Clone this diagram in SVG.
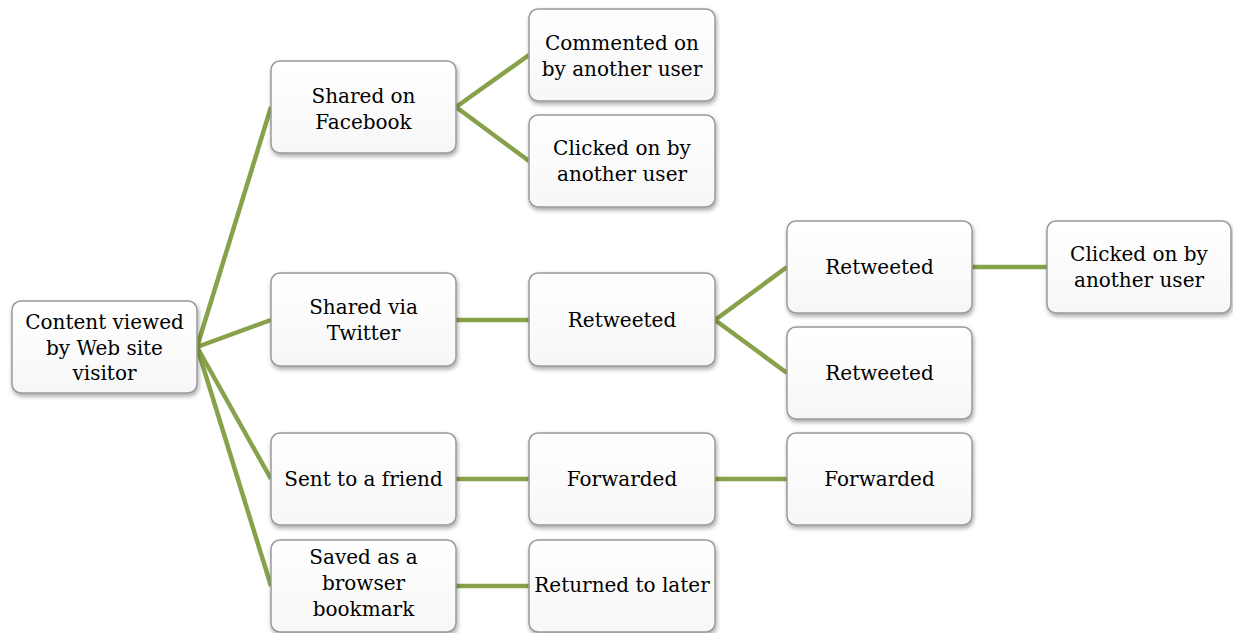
<svg xmlns="http://www.w3.org/2000/svg" width="1233" height="633" viewBox="0 0 1233 633">
<defs>
<linearGradient id="g" x1="0" y1="0" x2="0" y2="1">
<stop offset="0" stop-color="#ffffff"/>
<stop offset="1" stop-color="#f7f7f7"/>
</linearGradient>
<filter id="sh" x="-10%" y="-10%" width="125%" height="130%">
<feDropShadow dx="1" dy="2.5" stdDeviation="2" flood-color="#000" flood-opacity="0.35"/>
</filter>
</defs>
<style>
.n rect{fill:url(#g);stroke:#999999;stroke-width:1.5;filter:url(#sh)}
.n text{font-family:"DejaVu Serif","Liberation Serif",serif;font-size:20px;fill:#000;text-anchor:middle}
#connectors line{stroke:#87a24a;stroke-width:4.5;stroke-linecap:butt}
</style>
<rect width="1233" height="633" fill="#ffffff"/>
<g id="connectors">
<line x1="197" y1="347" x2="271" y2="107"/>
<line x1="197" y1="347" x2="271" y2="320"/>
<line x1="197" y1="347" x2="271" y2="479"/>
<line x1="197" y1="347" x2="271" y2="586"/>
<line x1="456" y1="107" x2="529" y2="55"/>
<line x1="456" y1="107" x2="529" y2="161"/>
<line x1="456" y1="320" x2="529" y2="320"/>
<line x1="715" y1="320" x2="787" y2="267"/>
<line x1="715" y1="320" x2="787" y2="373"/>
<line x1="972" y1="267" x2="1047" y2="267"/>
<line x1="456" y1="479" x2="529" y2="479"/>
<line x1="715" y1="479" x2="787" y2="479"/>
<line x1="456" y1="586" x2="529" y2="586"/>
</g>
<g id="root" class="n"><rect x="12" y="301" width="185" height="92" rx="9"/><text x="104.5" y="329">Content viewed</text><text x="104.5" y="355">by Web site</text><text x="104.5" y="380">visitor</text></g>
<g id="facebook" class="n"><rect x="271" y="61" width="185" height="92" rx="9"/><text x="363.5" y="103">Shared on</text><text x="363.5" y="129">Facebook</text></g>
<g id="commented" class="n"><rect x="529" y="9" width="186" height="92" rx="9"/><text x="622" y="50">Commented on</text><text x="622" y="76">by another user</text></g>
<g id="clicked1" class="n"><rect x="529" y="115" width="186" height="92" rx="9"/><text x="622" y="155">Clicked on by</text><text x="622" y="181">another user</text></g>
<g id="twitter" class="n"><rect x="271" y="273" width="185" height="93" rx="9"/><text x="363.5" y="314">Shared via</text><text x="363.5" y="340">Twitter</text></g>
<g id="retweeted1" class="n"><rect x="529" y="273" width="186" height="93" rx="9"/><text x="622" y="327">Retweeted</text></g>
<g id="retweeted2" class="n"><rect x="787" y="221" width="185" height="92" rx="9"/><text x="879.5" y="274">Retweeted</text></g>
<g id="retweeted3" class="n"><rect x="787" y="327" width="185" height="92" rx="9"/><text x="879.5" y="380">Retweeted</text></g>
<g id="clicked2" class="n"><rect x="1047" y="221" width="184" height="92" rx="9"/><text x="1139" y="261">Clicked on by</text><text x="1139" y="287">another user</text></g>
<g id="sent" class="n"><rect x="271" y="433" width="185" height="92" rx="9"/><text x="363.5" y="486">Sent to a friend</text></g>
<g id="forwarded1" class="n"><rect x="529" y="433" width="186" height="92" rx="9"/><text x="622" y="486">Forwarded</text></g>
<g id="forwarded2" class="n"><rect x="787" y="433" width="185" height="92" rx="9"/><text x="879.5" y="486">Forwarded</text></g>
<g id="saved" class="n"><rect x="271" y="540" width="185" height="92" rx="9"/><text x="363.5" y="564">Saved as a</text><text x="363.5" y="590">browser</text><text x="363.5" y="616">bookmark</text></g>
<g id="returned" class="n"><rect x="529" y="540" width="186" height="92" rx="9"/><text x="622" y="592">Returned to later</text></g>
</svg>
